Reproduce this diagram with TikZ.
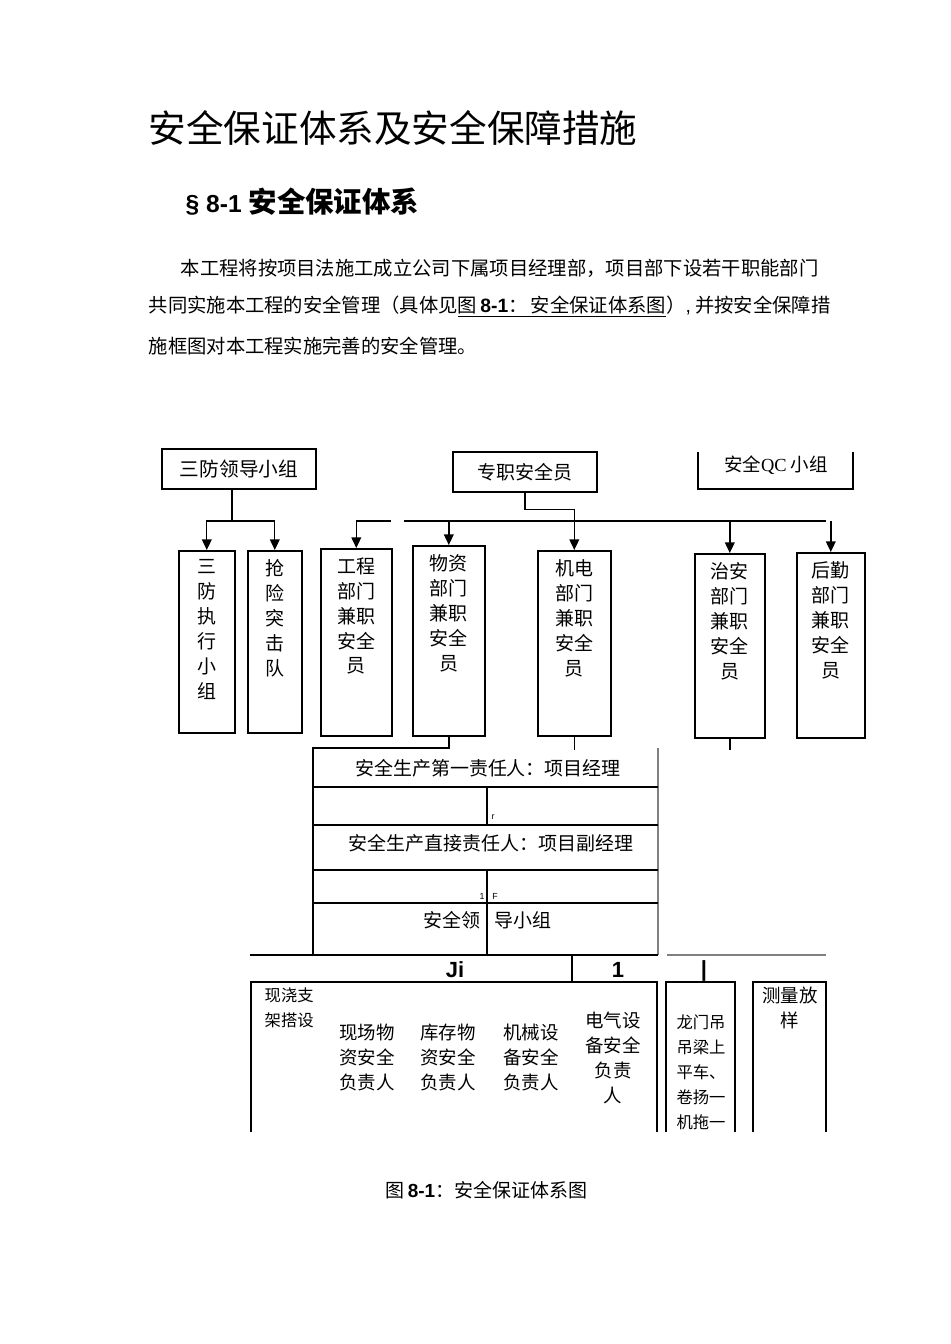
\documentclass[tikz,border=0pt]{standalone}
\usepackage{fontspec}
\setmainfont{Liberation Serif}
\newfontfamily\cjk{Noto Sans CJK SC}
\newfontfamily\lsans{Liberation Sans}
\usetikzlibrary{arrows.meta,positioning}
\newcommand{\pxu}{0.02cm}
\tikzset{
  box/.style={draw, line width=0.9pt, inner sep=0pt},
  txt/.style={font=\cjk\fontsize{10.8}{14.2}\selectfont, align=center, inner sep=0pt},
  stxt/.style={font=\cjk\fontsize{9.3}{14.2}\selectfont, align=center, inner sep=0pt},
  mtxt/.style={font=\cjk\fontsize{10.5}{14.2}\selectfont, align=center, inner sep=0pt},
  ptxt/.style={font=\cjk\fontsize{11}{13}\selectfont, anchor=west, inner sep=0pt},
  tmark/.style={font=\lsans\fontsize{5}{6}\selectfont, inner sep=0pt},
  bmark/.style={font=\lsans\bfseries\fontsize{12.5}{14}\selectfont, inner sep=0pt},
  arr/.style={-{Triangle[length=6pt,width=5.5pt]}}
}

\begin{document}
\begin{tikzpicture}[x=0.02cm, y=-0.02cm, line width=0.8pt]

  \fill[white] (0,0) rectangle (950,1344);

  % 标题与正文
  \node[anchor=west, font=\cjk\fontsize{21.4}{24}\selectfont, inner sep=0pt] (title) at (148,128) {安全保证体系及安全保障措施};
  \node[anchor=west, inner sep=0pt] (sec) at (185,202) {{\lsans\bfseries\fontsize{14}{16}\selectfont § 8-1 }{\cjk\bfseries\fontsize{16.2}{18}\selectfont 安全保证体系}};
  \node[ptxt] (par1) at (180,268) {本工程将按项目法施工成立公司下属项目经理部，项目部下设若干职能部门};
  \node[ptxt] (par2) at (148,307) {共同实施本工程的安全管理（具体见\underline{图{\lsans\bfseries\,8-1}：\,安全保证体系图}）{\lsans,} 并按安全保障措};
  \node[ptxt] (par3) at (148,346) {施框图对本工程实施完善的安全管理。};

  % 第一层
  \node[box, minimum width=154*\pxu, minimum height=40*\pxu, font=\cjk\fontsize{11.2}{13}\selectfont] (sfld) at (239,469) {三防领导小组};
  \node[box, minimum width=144*\pxu, minimum height=40*\pxu, font=\cjk\fontsize{10.8}{13}\selectfont] (zzaq) at (525,472) {专职安全员};
  \draw[line width=0.9pt] (698,452) |- (853,489) -- (853,452);
  \node[inner sep=0pt, font=\cjk\fontsize{10.5}{13}\selectfont] (qc) at (776,465) {安全{\rmfamily QC} 小组};

  % 第二层
  \node[box, minimum width=56*\pxu, minimum height=182*\pxu, anchor=north west] (sfzx) at (178,550) {};
  \node[box, minimum width=54*\pxu, minimum height=182*\pxu, anchor=north west] (qxtj) at (247,550) {};
  \node[box, minimum width=71*\pxu, minimum height=187*\pxu, anchor=north west] (gcbm) at (320,548) {};
  \node[box, minimum width=72*\pxu, minimum height=190*\pxu, anchor=north west] (wzbm) at (412,545) {};
  \node[box, minimum width=73*\pxu, minimum height=185*\pxu, anchor=north west] (jdbm) at (537,550) {};
  \node[box, minimum width=70*\pxu, minimum height=184*\pxu, anchor=north west] (zabm) at (694,553) {};
  \node[box, minimum width=68*\pxu, minimum height=185*\pxu, anchor=north west] (hqbm) at (796,552) {};

  \node[txt, below=5pt of sfzx.north] (tsfzx) {三\\防\\执\\行\\小\\组};
  \node[txt, below=5pt of qxtj.north] (tqxtj) {抢\\险\\突\\击\\队};
  \node[txt, below=5pt of gcbm.north] (tgcbm) {工程\\部门\\兼职\\安全\\员};
  \node[txt, below=5pt of wzbm.north] (twzbm) {物资\\部门\\兼职\\安全\\员};
  \node[txt, below=5pt of jdbm.north] (tjdbm) {机电\\部门\\兼职\\安全\\员};
  \node[txt, below=5pt of zabm.north] (tzabm) {治安\\部门\\兼职\\安全\\员};
  \node[txt, below=5pt of hqbm.north] (thqbm) {后勤\\部门\\兼职\\安全\\员};

  % 连线
  \coordinate (sfj) at (232,521);
  \draw (232,0 |- sfld.south) -- (sfj);
  \draw[arr] (sfj) -| (sfzx.north);
  \draw[arr] (sfj) -| (qxtj.north);
  \coordinate (gl) at (391,521);
  \coordinate (hl) at (404,521);
  \coordinate (hr) at (826,521);
  \draw[arr] (gl) -| (gcbm.north);
  \draw (hl) -- (hr);
  \draw[arr] (wzbm.north |- hl) -- (wzbm.north);
  \draw[arr] (zabm.north |- hl) -- (zabm.north);
  \draw[arr] (hqbm.north |- hl) -- (hqbm.north);
  \draw[arr] (zzaq.south) -- ++(0,17) -| (jdbm.north);

  % 责任人表
  \draw (wzbm.south) |- (313,748) -- (313,955);
  \draw (jdbm.south) -- ++(0,13);
  \draw (zabm.south) -- ++(0,11);
  \draw[gray] (658,748) -- (658,955);
  \foreach \yy in {787,825,870,903} \draw (313,\yy) -- (658,\yy);
  \draw (487,787) -- (487,825);
  \draw (487,870) -- (487,955);
  \node[txt] (zr1) at (488,768) {安全生产第一责任人：项目经理};
  \node[txt] (zr2) at (491,843) {安全生产直接责任人：项目副经理};
  \node[txt, anchor=east] (zr3a) at (481,920) {安全领};
  \node[txt, anchor=west] (zr3b) at (494,920) {导小组};
  \node[tmark] (mr) at (493,817) {r};
  \node[tmark] (m1) at (482,896) {1};
  \node[tmark] (mf) at (495,896) {F};

  % 底层
  \draw (250,955) -- (658,955);
  \draw[gray] (667,955) -- (826,955);
  \draw (572,955) -- (572,982);
  \node[bmark] (mji) at (455,970) {Ji};
  \node[bmark] (mone) at (618,970) {1};
  \node[bmark] (mbar) at (704,971) {|};

  \draw (251,1132) |- (657,982) -- (657,1132);
  \draw (666,1132) |- (735,982) -- (735,1132);
  \draw (753,1132) |- (826,982) -- (826,1132);

  \node[stxt, anchor=north west, align=left] (xj) at (264,987) {现浇支\\架搭设};
  \node[mtxt, anchor=north] (xc) at (367,1023) {现场物\\资安全\\负责人};
  \node[mtxt, anchor=north] (kc) at (448,1023) {库存物\\资安全\\负责人};
  \node[mtxt, anchor=north] (jx) at (531,1023) {机械设\\备安全\\负责人};
  \node[mtxt, anchor=north] (dq) at (613,1011) {电气设\\备安全\\负责\\人};
  \node[stxt, anchor=north] (lm) at (701,1014) {龙门吊\\吊梁上\\平车、\\卷扬一\\机拖一};
  \node[mtxt, anchor=north] (cl) at (790,986) {测量放\\样};

  % 图题
  \node[anchor=west, inner sep=0pt, font=\cjk\fontsize{10.8}{13}\selectfont] (cap) at (385,1190) {图\,{\lsans\bfseries 8-1}：安全保证体系图};

\end{tikzpicture}
\end{document}
